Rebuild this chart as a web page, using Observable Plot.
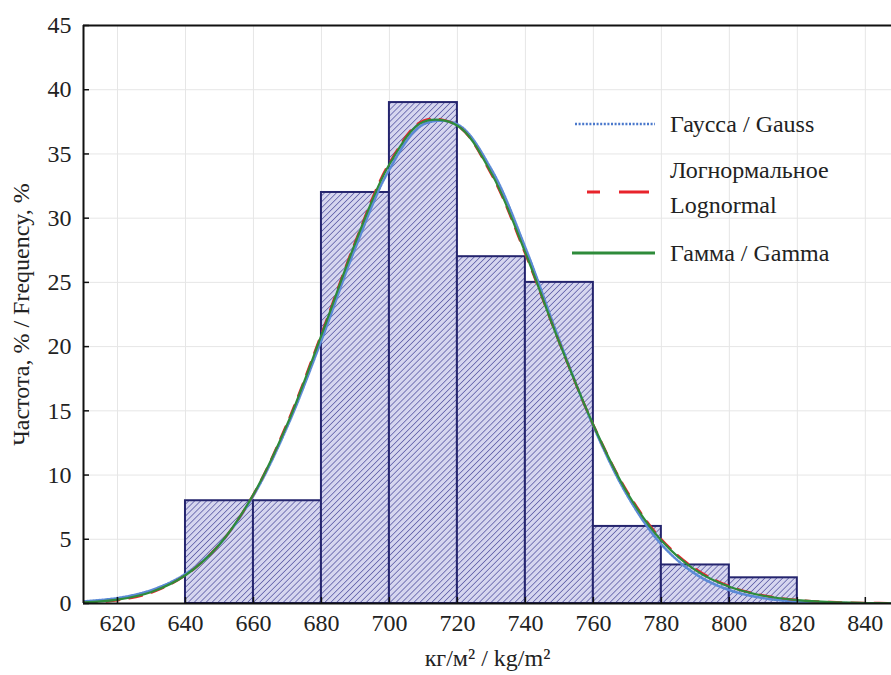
<!DOCTYPE html>
<html>
<head>
<meta charset="utf-8">
<script src="https://cdn.jsdelivr.net/npm/d3@7"></script>
<script src="https://cdn.jsdelivr.net/npm/@observablehq/plot@0.6"></script>
<style>
  html, body { margin: 0; padding: 0; background: #fff; }
  #chart { width: 891px; height: 675px; }
</style>
</head>
<body>
<div id="chart"></div>
<script>
// Histogram bins (lower edge) and frequency, %
const binStart = [640, 660, 680, 700, 720, 740, 760, 780, 800];
const binWidth = 20;
const freq = [8, 8, 32, 39, 27, 25, 6, 3, 2];

// Fitted curves, values
const curveX = [610, 620, 630, 640, 650, 660, 670, 680, 690, 700, 710, 720, 730, 740, 750, 760, 770, 780, 790, 800, 810, 820, 830, 840, 850];
const gauss = [0.16, 0.42, 1.04, 2.3, 4.6, 8.4, 13.8, 20.5, 27.7, 33.8, 37.3, 37.3, 33.8, 27.7, 20.5, 13.8, 8.4, 4.6, 2.3, 1.04, 0.42, 0.16, 0.05, 0.01, 0];
const lognormal = [0.05, 0.25, 0.85, 2.2, 4.6, 8.5, 14.1, 21.0, 28.2, 34.3, 37.6, 37.2, 33.4, 27.2, 20.3, 13.9, 8.7, 5.0, 2.7, 1.35, 0.63, 0.28, 0.12, 0.05, 0.02];
const gamma = [0.08, 0.3, 0.9, 2.2, 4.6, 8.5, 14.0, 20.9, 28.1, 34.2, 37.5, 37.2, 33.5, 27.3, 20.3, 13.9, 8.6, 4.9, 2.6, 1.3, 0.6, 0.26, 0.1, 0.04, 0.015];

const xTicks = [620, 640, 660, 680, 700, 720, 740, 760, 780, 800, 820, 840];
const yTicks = [0, 5, 10, 15, 20, 25, 30, 35, 40, 45];

const legendItems = [
  {lines: ["Гаусса / Gauss"], stroke: "#4a78cc", dash: "2,1.6", width: 2.4},
  {lines: ["Логнормальное", "Lognormal"], stroke: "#e8232b", dash: "13,19,30", width: 2.8},
  {lines: ["Гамма / Gamma"], stroke: "#2e8b3a", dash: null, width: 2.8}
];

const bars = binStart.map((x, i) => ({x1: x, x2: x + binWidth, y: freq[i]}));
const curves = curveX.map((x, i) => ({x, gauss: gauss[i], lognormal: lognormal[i], gamma: gamma[i]}));

const font = "'Liberation Serif', 'Times New Roman', serif";

const plot = Plot.plot({
  width: 891,
  height: 675,
  marginLeft: 83,
  marginRight: 0,
  marginTop: 25,
  marginBottom: 72,
  style: {fontFamily: font, fontSize: "24px", color: "#222", background: "#fff"},
  x: {domain: [610, 847.7]},
  y: {domain: [0, 45]},
  marks: [
    Plot.gridX(xTicks, {stroke: "#e6e6e6", strokeOpacity: 1, strokeWidth: 1}),
    Plot.gridY(yTicks, {stroke: "#e6e6e6", strokeOpacity: 1, strokeWidth: 1}),
    Plot.rectY(bars, {x1: "x1", x2: "x2", y: "y", fill: "url(#hatch)", stroke: "#25256e", strokeWidth: 2}),
    Plot.line(curves, {x: "x", y: "gauss", stroke: "#5b8ad6", strokeWidth: 2.6, strokeDasharray: "1.6,1.4", curve: "catmull-rom", clip: true}),
    Plot.line(curves, {x: "x", y: "lognormal", stroke: "#e8232b", strokeWidth: 2.4, strokeDasharray: "13,10", curve: "catmull-rom", clip: true}),
    Plot.line(curves, {x: "x", y: "gamma", stroke: "#2e8b3a", strokeWidth: 2.2, curve: "catmull-rom", clip: true}),
    Plot.ruleX([610], {stroke: "#111", strokeWidth: 2}),
    Plot.ruleY([0, 45], {stroke: "#111", strokeWidth: 2}),
    Plot.axisX({ticks: xTicks, tickSize: -6, tickPadding: 16, stroke: "#111", strokeWidth: 1.5,
      label: "кг/м² / kg/m²", labelAnchor: "center", labelArrow: "none", labelOffset: 62, fontSize: 24}),
    Plot.axisY({ticks: yTicks, tickSize: -6, tickPadding: 18, stroke: "#111", strokeWidth: 1.5,
      label: "Частота, % / Frequency, %", labelAnchor: "center", labelArrow: "none", labelOffset: 72, fontSize: 24})
  ]
});

// hatch pattern
const svg = d3.select(plot);
const defs = svg.insert("defs", ":first-child");
const pat = defs.append("pattern")
  .attr("id", "hatch").attr("patternUnits", "userSpaceOnUse")
  .attr("width", 4.2).attr("height", 4.2)
  .attr("patternTransform", "rotate(45)");
pat.append("rect").attr("width", 4.2).attr("height", 4.2).attr("fill", "#d6d6ef");
pat.append("line").attr("x1", 0).attr("y1", 0).attr("x2", 0).attr("y2", 4.2)
  .attr("stroke", "#47479a").attr("stroke-width", 1.3);

// legend
const lg = svg.append("g")
  .style("font-family", font).style("font-size", "24px")
  .attr("fill", "#222").attr("text-anchor", "start");
const rows = [
  {lineY: 124, x1: 575, x2: 655, textY: [124]},
  {lineY: 192, x1: 587, x2: 652, textY: [170, 205]},
  {lineY: 253, x1: 572, x2: 655, textY: [253]}
];
legendItems.forEach((item, i) => {
  const r = rows[i];
  lg.append("line").attr("x1", r.x1).attr("x2", r.x2).attr("y1", r.lineY).attr("y2", r.lineY)
    .attr("stroke", item.stroke).attr("stroke-width", item.width)
    .attr("stroke-dasharray", item.dash);
  item.lines.forEach((t, j) => {
    lg.append("text").attr("x", 670).attr("y", r.textY[j]).attr("dy", "0.35em").text(t);
  });
});

document.getElementById("chart").appendChild(plot);
</script>
</body>
</html>
